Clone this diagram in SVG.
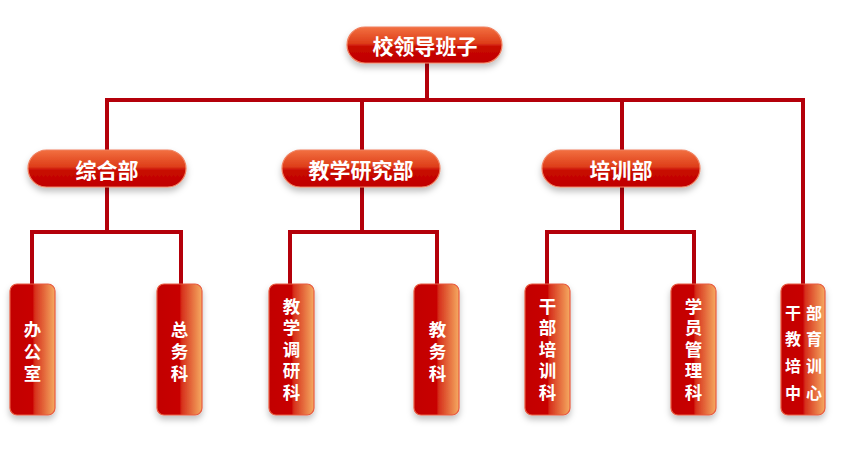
<svg xmlns="http://www.w3.org/2000/svg" width="850" height="454" viewBox="0 0 850 454">
<defs>
<linearGradient id="pill" x1="0" y1="0" x2="0" y2="1">
<stop offset="0" stop-color="#f27040"/>
<stop offset="0.45" stop-color="#de3e1a"/>
<stop offset="0.55" stop-color="#c80a04"/>
<stop offset="1" stop-color="#c00000"/>
</linearGradient>
<linearGradient id="leaf" x1="0" y1="0" x2="1" y2="0">
<stop offset="0" stop-color="#c20000"/>
<stop offset="0.5" stop-color="#c80402"/>
<stop offset="0.55" stop-color="#d6301c"/>
<stop offset="1" stop-color="#f5aa60"/>
</linearGradient>
<filter id="sh" x="-30%" y="-30%" width="160%" height="170%">
<feDropShadow dx="0" dy="4" stdDeviation="3" flood-color="#000" flood-opacity="0.25"/>
</filter>
</defs>
<style>
.line{fill:none;stroke:#b4000a;stroke-width:4;stroke-linecap:square}
.pill{fill:url(#pill);stroke:#f08060;stroke-width:1.2;filter:url(#sh)}
.leaf{fill:url(#leaf);stroke:#e85a40;stroke-width:1.2;filter:url(#sh)}
text{font-family:"Noto Sans CJK SC","Noto Sans",sans-serif;font-weight:bold;fill:#fff;text-anchor:middle;dominant-baseline:central}
.t1{font-size:21px}
.t2{font-size:21px}
.t3{font-size:17.5px}
.t4{font-size:16px}
</style>
<rect width="850" height="454" fill="#fff"/>
<g id="connectors">
<path class="line" d="M427 63V100M107 100H803M107 100V150M362 100V150M622 100V150M803 100V284"/>
<path class="line" d="M107 187V232M32 232H181M32 232V284M181 232V284"/>
<path class="line" d="M362 187V232M290 232H437M290 232V284M437 232V284"/>
<path class="line" d="M622 187V232M547 232H694M547 232V284M694 232V284"/>
</g>
<g id="n-top"><rect class="pill" x="347" y="27" width="155" height="36" rx="18"/><text class="t1" x="425" y="45">校领导班子</text></g>
<g id="n-zonghe"><rect class="pill" x="28" y="150" width="158" height="37" rx="18.5"/><text class="t2" x="107" y="168.5">综合部</text></g>
<g id="n-jiaoxue"><rect class="pill" x="282" y="150" width="158" height="37" rx="18.5"/><text class="t2" x="361" y="168.5">教学研究部</text></g>
<g id="n-peixun"><rect class="pill" x="542" y="150" width="158" height="37" rx="18.5"/><text class="t2" x="621" y="168.5">培训部</text></g>
<g id="n-bangongshi"><rect class="leaf" x="10" y="284" width="45" height="131" rx="7"/><text class="t3" x="32.5" y="328">办</text><text class="t3" x="32.5" y="350">公</text><text class="t3" x="32.5" y="372">室</text></g>
<g id="n-zongwu"><rect class="leaf" x="157" y="284" width="45" height="131" rx="7"/><text class="t3" x="179.5" y="328">总</text><text class="t3" x="179.5" y="350">务</text><text class="t3" x="179.5" y="372">科</text></g>
<g id="n-jiaoxuediaoyan"><rect class="leaf" x="269" y="284" width="45" height="131" rx="7"/><text class="t3" x="291.5" y="305">教</text><text class="t3" x="291.5" y="326.5">学</text><text class="t3" x="291.5" y="348">调</text><text class="t3" x="291.5" y="369.5">研</text><text class="t3" x="291.5" y="391">科</text></g>
<g id="n-jiaowu"><rect class="leaf" x="414" y="284" width="45" height="131" rx="7"/><text class="t3" x="437.5" y="328">教</text><text class="t3" x="437.5" y="350">务</text><text class="t3" x="437.5" y="372">科</text></g>
<g id="n-ganbupeixun"><rect class="leaf" x="525" y="284" width="45" height="131" rx="7"/><text class="t3" x="547.5" y="305">干</text><text class="t3" x="547.5" y="326.5">部</text><text class="t3" x="547.5" y="348">培</text><text class="t3" x="547.5" y="369.5">训</text><text class="t3" x="547.5" y="391">科</text></g>
<g id="n-xueyuan"><rect class="leaf" x="671" y="284" width="45" height="131" rx="7"/><text class="t3" x="693.5" y="305">学</text><text class="t3" x="693.5" y="326.5">员</text><text class="t3" x="693.5" y="348">管</text><text class="t3" x="693.5" y="369.5">理</text><text class="t3" x="693.5" y="391">科</text></g>
<g id="n-zhongxin"><rect class="leaf" x="781" y="284" width="44" height="131" rx="7"/>
<text class="t4" x="793" y="312">干</text><text class="t4" x="814" y="312">部</text>
<text class="t4" x="793" y="338">教</text><text class="t4" x="814" y="338">育</text>
<text class="t4" x="793" y="365">培</text><text class="t4" x="814" y="365">训</text>
<text class="t4" x="793" y="392">中</text><text class="t4" x="814" y="392">心</text></g>
</svg>
